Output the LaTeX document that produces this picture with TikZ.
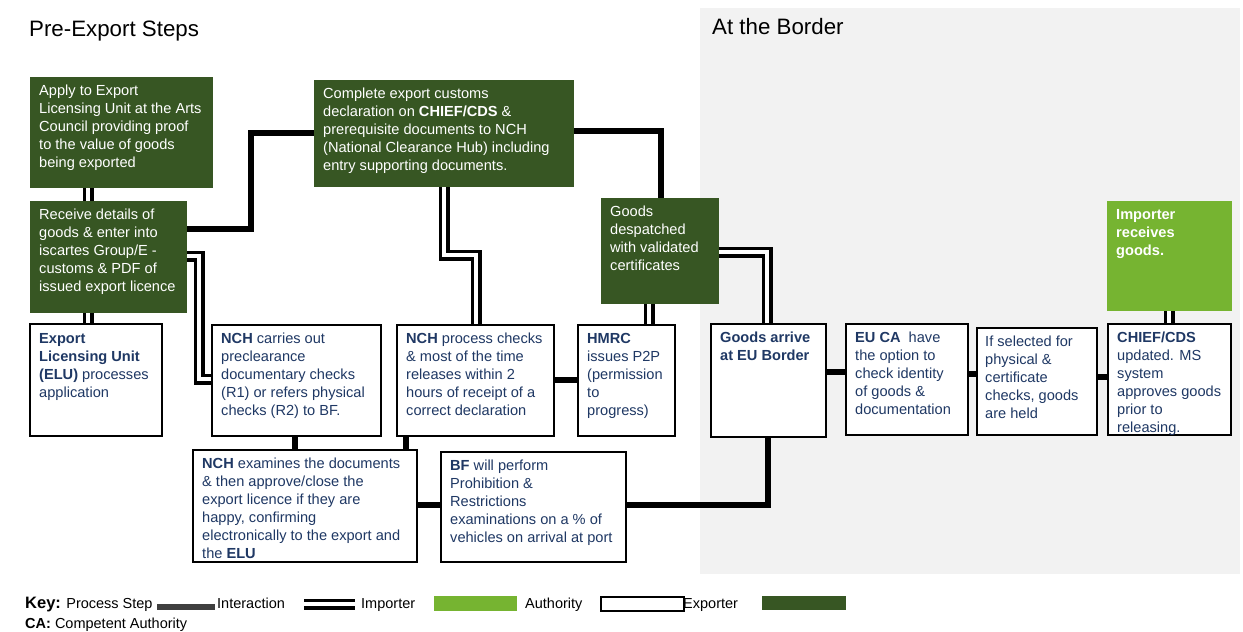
\documentclass[tikz,border=0pt]{standalone}
\usepackage{fontspec}
\setmainfont{Liberation Sans}
\pgfdeclarelayer{back}
\pgfdeclarelayer{lines}
\pgfsetlayers{back,lines,main}
\definecolor{exgreen}{RGB}{55,86,35}
\definecolor{imgreen}{RGB}{118,180,49}
\definecolor{navy}{RGB}{31,56,100}
\definecolor{greybg}{RGB}{242,242,242}
\definecolor{keygrey}{RGB}{63,63,63}
\tikzset{
  gbox/.style={fill=exgreen, inner sep=0, outer sep=0, anchor=north west},
  lbox/.style={fill=imgreen, inner sep=0, outer sep=0, anchor=north west},
  wbox/.style={fill=white, draw=black, line width=2.2, inner sep=0, outer sep=0, anchor=north west},
  btext/.style={font=\fontsize{14.6}{18}\selectfont, align=left, inner sep=0, anchor=north west},
  wtext/.style={btext, text=white},
  ntext/.style={btext, text=navy},
  dbl/.style={draw=black, line width=3.6, double=white, double distance=3.8},
  thk/.style={draw=black, line width=6.5},
  keytext/.style={font=\fontsize{14.5}{16}\selectfont, inner sep=0, anchor=base west},
  head/.style={font=\fontsize{22.3}{24}\selectfont, inner sep=0, anchor=base west}
}
\begin{document}
\begin{tikzpicture}[x=1pt,y=-1pt]
\useasboundingbox (0,0) rectangle (1243,632);
\begin{pgfonlayer}{back}
  \fill[greybg] (700,8) rectangle (1240,574);
\end{pgfonlayer}
\node[head] (h1) at (29,36) {Pre-Export Steps};
\node[head] (h2) at (712,34) {At the Border};

% boxes
\node[gbox, minimum width=183, minimum height=111] (apply) at (30,77) {};
\node[gbox, minimum width=157, minimum height=112] (receive) at (30,201) {};
\node[gbox, minimum width=260, minimum height=107] (complete) at (314,80) {};
\node[gbox, minimum width=118, minimum height=106] (gdesp) at (601,198) {};
\node[lbox, minimum width=125, minimum height=110] (importer) at (1107,201) {};
\node[wbox, minimum width=132, minimum height=112] (elu) at (30,324) {};
\node[wbox, minimum width=169, minimum height=111] (nchc) at (212,325) {};
\node[wbox, minimum width=157, minimum height=111] (nchp) at (397,325) {};
\node[wbox, minimum width=97, minimum height=111] (hmrc) at (578,325) {};
\node[wbox, minimum width=224, minimum height=112] (nche) at (193,450) {};
\node[wbox, minimum width=185, minimum height=110] (bf) at (441,452) {};
\node[wbox, minimum width=115, minimum height=113] (garrive) at (711,324) {};
\node[wbox, minimum width=122, minimum height=111] (euca) at (846,324) {};
\node[wbox, minimum width=120, minimum height=107] (ifsel) at (977,328) {};
\node[wbox, minimum width=123, minimum height=111] (chief) at (1108,324) {};

% texts
\node[wtext] (applyT) at ([xshift=9,yshift=-8]apply.north west) {Apply to Export\\Licensing Unit at the Arts\\Council providing proof\\to the value of goods\\being exported};
\node[wtext] (receiveT) at ([xshift=9,yshift=-8]receive.north west) {Receive details of\\goods \& enter into\\iscartes Group/E -\\customs \& PDF of\\issued export licence};
\node[wtext] (completeT) at ([xshift=9,yshift=-8]complete.north west) {Complete export customs\\declaration on \textbf{CHIEF/CDS} \&\\prerequisite documents to NCH\\(National Clearance Hub) including\\entry supporting documents.};
\node[wtext] (gdespT) at ([xshift=9,yshift=-8]gdesp.north west) {Goods\\despatched\\with validated\\certificates};
\node[wtext] (importerT) at ([xshift=9,yshift=-8]importer.north west) {\textbf{Importer}\\\textbf{receives}\\\textbf{goods.}};
\node[ntext] (eluT) at ([xshift=9,yshift=-9]elu.north west) {\textbf{Export}\\\textbf{Licensing Unit}\\\textbf{(ELU)} processes\\application};
\node[ntext] (nchcT) at ([xshift=9,yshift=-8]nchc.north west) {\textbf{NCH} carries out\\preclearance\\documentary checks\\(R1) or refers physical\\checks (R2) to BF.};
\node[ntext] (nchpT) at ([xshift=9,yshift=-8]nchp.north west) {\textbf{NCH} process checks\\\& most of the time\\releases within 2\\hours of receipt of a\\correct declaration};
\node[ntext] (hmrcT) at ([xshift=9,yshift=-8]hmrc.north west) {\textbf{HMRC}\\issues P2P\\(permission\\to\\progress)};
\node[ntext] (ncheT) at ([xshift=9,yshift=-8]nche.north west) {\textbf{NCH} examines the documents\\\& then approve/close the\\export licence if they are\\happy, confirming\\electronically to the export and\\the \textbf{ELU}};
\node[ntext] (bfT) at ([xshift=9,yshift=-8]bf.north west) {\textbf{BF} will perform\\Prohibition \&\\Restrictions\\examinations on a \% of\\vehicles on arrival at port};
\node[ntext] (garriveT) at ([xshift=9,yshift=-8]garrive.north west) {\textbf{Goods arrive}\\\textbf{at EU Border}};
\node[ntext] (eucaT) at ([xshift=9,yshift=-8]euca.north west) {\textbf{EU CA}~ have\\the option to\\check identity\\of goods \&\\documentation};
\node[ntext] (ifselT) at ([xshift=8,yshift=-8]ifsel.north west) {If selected for\\physical \&\\certificate\\checks, goods\\are held};
\node[ntext] (chiefT) at ([xshift=9,yshift=-8]chief.north west) {\textbf{CHIEF/CDS}\\updated. MS\\system\\approves goods\\prior to\\releasing.};

% connectors
\begin{pgfonlayer}{lines}
\draw[dbl] ([xshift=58]apply.south west) -- ([xshift=58]receive.north west);
\draw[dbl] ([xshift=58]receive.south west) -- ([xshift=58]elu.north west);
\draw[thk] ([yshift=-28]receive.north east) -- ++(64,0) |- ([yshift=-53]complete.north west);
\draw[thk] ([yshift=-51]complete.north east) -| ([xshift=60]gdesp.north west);
\draw[dbl] ([yshift=-55]receive.north east) -- ++(12,0) |- ([yshift=-54]nchc.north west);
\draw[dbl] ([xshift=130]complete.south west) -- ++(0,68) -| ([xshift=79]nchp.north west);
\draw[dbl] ([xshift=48]gdesp.south west) -- ([xshift=71]hmrc.north west);
\draw[dbl] ([yshift=-54]gdesp.north east) -| ([xshift=56]garrive.north west);
\draw[thk] ([yshift=-55]nchp.north east) -- ([yshift=-55]hmrc.north west);
\draw[thk] ([xshift=83]nchc.south west) -- ([xshift=102]nche.north west);
\draw[thk] ([xshift=9]nchp.south west) -- ([xshift=213]nche.north west);
\draw[thk] ([yshift=-55]nche.north east) -- ([yshift=-53]bf.north west);
\draw[thk] ([yshift=-53]bf.north east) -| ([xshift=57]garrive.south west);
\draw[thk] ([yshift=-48]garrive.north east) -- ([yshift=-48]euca.north west);
\draw[thk] ([yshift=-50]euca.north east) -- ([yshift=-46]ifsel.north west);
\draw[thk] ([yshift=-49]ifsel.north east) -- ([yshift=-53]chief.north west);
\draw[dbl] ([xshift=61]chief.north west) -- ([xshift=62]importer.south west);
\end{pgfonlayer}

% key
\node[keytext] (key) at (25,608) {{\fontsize{16.5}{18}\selectfont\bfseries Key:} Process Step};
\node[fill=keygrey, inner sep=0, outer sep=0, minimum width=58, minimum height=6, anchor=north west] (kint) at (157,604) {};
\node[keytext] (kintT) at (217,608) {Interaction};
\coordinate (kd1) at (304,604.3);
\coordinate (kd2) at (355,604.3);
\draw[dbl] (kd1) -- (kd2);
\node[keytext] (kimpT) at (361,608) {Importer};
\node[lbox, minimum width=83, minimum height=15] (kauth) at (434,596) {};
\node[keytext] (kauthT) at (525,608) {Authority};
\node[wbox, line width=1.8, minimum width=83, minimum height=14] (kexp) at (601,597) {};
\node[keytext] (kexpT) at (683,608) {Exporter};
\node[gbox, minimum width=84, minimum height=14] (kexg) at (762,596) {};
\node[keytext] (ca) at (25,628) {{\bfseries CA:} Competent Authority};
\end{tikzpicture}
\end{document}
